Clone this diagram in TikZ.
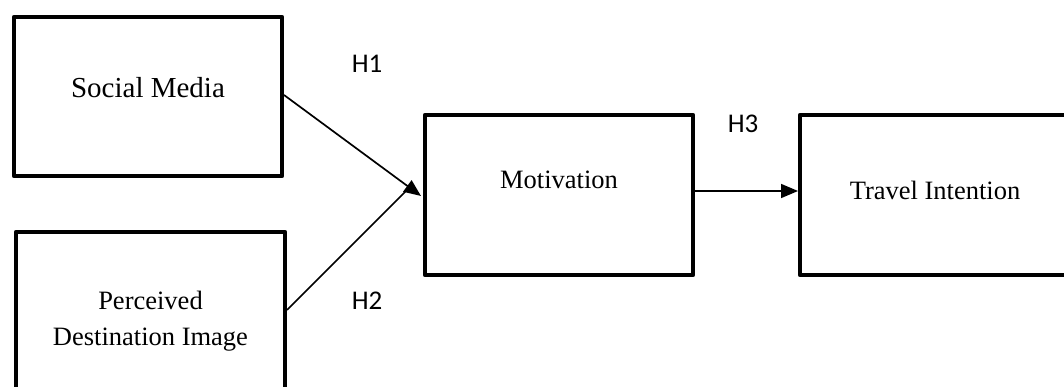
\documentclass[tikz,border=0pt]{standalone}
\usepackage{fontspec}
\setmainfont{Liberation Serif}
\newfontfamily\labfont{Carlito}
\usetikzlibrary{arrows.meta}
\begin{document}
\begin{tikzpicture}[x=1pt,y=-1pt,
  box/.style={draw=black,line width=4.6pt,line join=round},
  lbl/.style={font=\labfont\fontsize{27}{30}\selectfont,anchor=base,inner sep=0pt},
  txt/.style={font=\fontsize{26.5}{36}\selectfont,inner sep=0pt,align=center},
  conn/.style={line width=1.7pt,-{Triangle[length=17pt,width=14pt]}},
  plain/.style={line width=1.7pt}]
\useasboundingbox (0,0) rectangle (1064,387);
\begin{scope}
\clip (0,0) rectangle (1064,387);
\draw[box] (14,17) rectangle (282,176);
\draw[box] (16,232) rectangle (285,400);
\draw[box] (425,115) rectangle (693,275);
\draw[box] (800,115) rectangle (1080,275);
\end{scope}
\coordinate (sm) at (284,95);
\coordinate (pd) at (287,310);
\coordinate (mo) at (421,196);
\coordinate (meet) at (409,188);
\coordinate (moR) at (695,191);
\coordinate (ti) at (798,191);
\node[txt,font=\fontsize{29}{34}\selectfont,anchor=base] (tsm) at (148,98) {Social Media};
\node[txt] (tpd) at (150.5,321) {Perceived\\Destination Image};
\node[txt,anchor=base] (tmo) at (559,189) {Motivation};
\node[txt,anchor=base] (tti) at (935,200) {Travel Intention};
\node[lbl] (h1) at (367,73) {H1};
\node[lbl] (h2) at (367,309) {H2};
\node[lbl] (h3) at (743,133) {H3};
\draw[conn] (sm) -- (mo);
\draw[plain] (pd) -- (meet);
\draw[conn] (moR) -- (ti);
\end{tikzpicture}
\end{document}
